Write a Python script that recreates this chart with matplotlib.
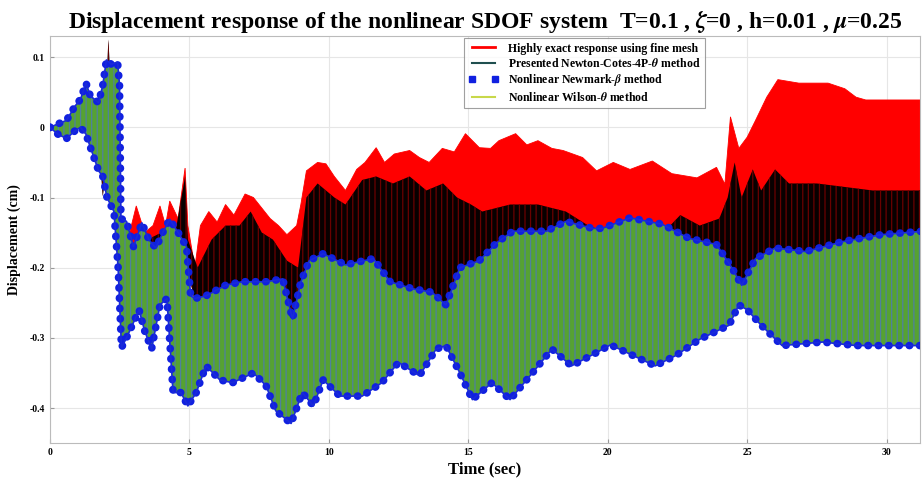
import numpy as np
import matplotlib
matplotlib.use('Agg')
import matplotlib.pyplot as plt
from matplotlib.lines import Line2D

# envelopes (time in sec, displacement in cm)
# highly exact response (red); the lower edge is mostly hidden under the other bands
exact_t_hi = [2.4, 2.5, 2.8, 3.1, 3.4, 3.7, 3.95, 4.15, 4.3, 4.6, 4.85, 4.95,
              5.2, 5.4, 5.7, 6.0, 6.3, 6.6, 7.0, 7.3, 7.6, 7.9, 8.2, 8.5, 8.85, 9.0, 9.2, 9.6,
              9.9, 10.2, 10.6, 11.0, 11.3, 11.7, 12.0, 12.35, 12.9, 13.25, 13.6, 14.07, 14.5,
              14.9, 15.4, 15.8, 16.1, 16.7, 17.1, 17.5, 18.0, 18.4, 19.1, 19.6, 20.2, 20.8,
              21.6, 22.3, 23.2, 23.9, 24.2, 24.4, 24.7, 25.0, 25.3, 25.7, 26.1, 26.85, 27.9,
              28.5, 28.9, 29.25, 31.3]
exact_hi = [0.05, -0.145, -0.16, -0.112, -0.15, -0.14, -0.112, -0.14,
            -0.105, -0.13, -0.058, -0.14, -0.2, -0.14, -0.12, -0.135, -0.11, -0.125, -0.095,
            -0.10, -0.115, -0.13, -0.14, -0.153, -0.14, -0.11, -0.062, -0.05, -0.052, -0.07,
            -0.09, -0.06, -0.05, -0.029, -0.05, -0.038, -0.033, -0.043, -0.05, -0.03, -0.035,
            -0.009, -0.029, -0.03, -0.019, -0.009, -0.025, -0.019, -0.03, -0.033, -0.043,
            -0.062, -0.05, -0.06, -0.048, -0.066, -0.072, -0.057, -0.081, 0.015, -0.03,
            -0.014, 0.01, 0.043, 0.068, 0.063, 0.063, 0.055, 0.043, 0.039, 0.039]
exact_t_lo = [2.4, 2.6, 4.3, 5.0, 5.2, 5.5, 8.4, 8.7, 9.0, 24.3, 24.7, 25.1, 31.3]
exact_lo = [0.05, -0.2, -0.2, -0.21, -0.245, -0.26, -0.26, -0.3, -0.26, -0.26, -0.24, -0.26, -0.26]

# presented Newton-Cotes-4P-theta (black)
nc_t_hi = [1.5, 1.95, 2.05, 2.1, 2.15, 2.4, 2.5, 3.0, 3.5, 4.0, 4.5, 4.85, 4.95, 5.3, 5.8,
           6.3, 6.8, 7.2, 7.6, 8.0, 8.5, 8.9, 9.2, 9.6, 10.2, 10.6, 11.2, 11.7, 12.3, 12.9,
           13.5, 14.1, 14.6, 15.1, 15.5, 16.5, 17.5, 18.5, 19.3, 20.0, 21.0, 22.0, 22.6,
           23.3, 24.0, 24.3, 24.55, 24.8, 25.2, 25.5, 26.0, 26.5, 27.5, 28.5, 29.5, 31.3]
nc_hi = [0.0, 0.05, 0.08, 0.125, 0.09, 0.08, -0.15, -0.17, -0.16, -0.15, -0.15, -0.07,
         -0.16, -0.2, -0.16, -0.14, -0.14, -0.12, -0.15, -0.16, -0.19, -0.2, -0.1, -0.08,
         -0.1, -0.11, -0.075, -0.07, -0.08, -0.07, -0.09, -0.08, -0.1, -0.11, -0.12, -0.11,
         -0.11, -0.12, -0.14, -0.15, -0.15, -0.15, -0.125, -0.14, -0.13, -0.1, -0.05,
         -0.1, -0.06, -0.09, -0.06, -0.08, -0.08, -0.085, -0.09, -0.09]
nc_t_lo = [1.5, 1.8, 1.9, 2.0, 2.3, 2.6, 4.3, 5.0, 5.2, 5.5, 8.4, 8.7, 9.0, 24.3, 24.7,
           25.1, 31.3]
nc_lo = [0.0, -0.05, -0.098, -0.07, -0.1, -0.2, -0.2, -0.21, -0.25, -0.26, -0.26, -0.3,
         -0.26, -0.26, -0.24, -0.26, -0.26]

# nonlinear Newmark-beta (blue) -- Wilson-theta sits on the same band
nm_t_hi = [0, 0.3, 0.6, 0.9, 1.1, 1.3, 1.45, 1.6, 1.75, 1.9, 2.03, 2.2, 2.43, 2.5, 2.55,
           2.75, 3.0, 3.3, 3.55, 3.8, 4.05, 4.3, 4.65, 4.9, 5.05, 5.2, 5.6, 6.3, 6.9, 7.75,
           8.35, 8.7, 9.0, 9.3, 9.8, 10.6, 11.6, 12.2, 13.0, 13.7, 14.2, 14.7, 15.4, 16.0,
           16.6, 17.8, 18.5, 19.45, 19.8, 20.8, 21.95, 22.9, 23.9, 24.45, 24.8, 25.3, 26.0,
           27.1, 28.4, 29.8, 31.3]
nm_hi = [0, 0.005, 0.01, 0.03, 0.04, 0.063, 0.045, 0.04, 0.035, 0.06, 0.096, 0.09, 0.093,
         0.06, -0.13, -0.134, -0.17, -0.136, -0.16, -0.172, -0.15, -0.131, -0.153, -0.17,
         -0.24, -0.244, -0.24, -0.225, -0.22, -0.22, -0.216, -0.273, -0.22, -0.19, -0.18,
         -0.196, -0.187, -0.22, -0.23, -0.235, -0.253, -0.2, -0.19, -0.165, -0.148, -0.148,
         -0.134, -0.144, -0.144, -0.129, -0.138, -0.158, -0.167, -0.2, -0.225, -0.187,
         -0.172, -0.177, -0.163, -0.153, -0.148]
nm_t_lo = [0, 0.3, 0.6, 0.9, 1.1, 1.3, 1.45, 1.6, 1.75, 1.9, 2.05, 2.3, 2.45, 2.57, 2.75,
           2.98, 3.2, 3.4, 3.65, 3.95, 4.2, 4.42, 4.7, 4.95, 5.25, 5.6, 6.1, 6.55, 7.3, 7.75,
           8.1, 8.65, 9.05, 9.45, 9.8, 10.4, 11.2, 11.9, 12.5, 13.25, 13.85, 14.2, 14.7,
           15.15, 15.85, 16.5, 17.3, 18.0, 18.7, 19.6, 20.1, 20.9, 21.7, 22.45, 23.3,
           24.35, 24.7, 25.0, 25.5, 26.25, 27.7, 28.9, 31.3]
nm_lo = [0, -0.01, -0.016, -0.005, 0.0, -0.01, -0.028, -0.045, -0.062, -0.07, -0.1, -0.12,
         -0.2, -0.314, -0.3, -0.28, -0.26, -0.29, -0.316, -0.253, -0.244, -0.378, -0.378,
         -0.397, -0.378, -0.34, -0.36, -0.364, -0.35, -0.368, -0.404, -0.422, -0.378,
         -0.397, -0.36, -0.383, -0.383, -0.364, -0.335, -0.354, -0.316, -0.311, -0.35,
         -0.388, -0.364, -0.388, -0.35, -0.316, -0.34, -0.321, -0.31, -0.325, -0.34,
         -0.325, -0.302, -0.282, -0.253, -0.26, -0.282, -0.311, -0.306, -0.311, -0.311]

labels = ['Highly exact response using fine mesh',
          'Presented Newton-Cotes-4P-$\\theta$ method',
          'Nonlinear Newmark-$\\beta$ method',
          'Nonlinear Wilson-$\\theta$ method']

plt.rcParams['font.family'] = 'Liberation Serif'
plt.rcParams['font.weight'] = 'bold'
plt.rcParams['mathtext.fontset'] = 'stix'
plt.rcParams['hatch.linewidth'] = 0.9


def band(ax, t_hi, hi, t_lo, lo, **kw):
    # closed polygon: upper envelope forward, lower envelope backward
    xs = list(t_hi) + list(t_lo)[::-1]
    ys = list(hi) + list(lo)[::-1]
    return ax.fill(xs, ys, **kw)


fig = plt.figure(figsize=(9.22, 4.88), dpi=100)
ax = fig.add_axes([0.054, 0.092, 0.944, 0.834])

ax.grid(True, color='#e6e6e6', lw=0.8)
ax.set_axisbelow(True)

band(ax, exact_t_hi, exact_hi, exact_t_lo, exact_lo, facecolor='#ff0000',
     edgecolor='#ff0000', lw=0.6, zorder=2)
band(ax, nc_t_hi, nc_hi, nc_t_lo, nc_lo, facecolor='#080000', edgecolor='#6a0000',
     hatch='|||', lw=0, zorder=3)
band(ax, nm_t_hi, nm_hi, nm_t_lo, nm_lo, facecolor='#56a232', edgecolor='#4f80a0',
     hatch='|||', lw=0, zorder=4)

# blue dots along the extremes of the Newmark band
for tt, yy in [(nm_t_hi, nm_hi), (nm_t_lo, nm_lo)]:
    ax.plot(tt, yy, color='#1020e0', lw=5.5, linestyle=(0, (0.05, 1.3)),
            dash_capstyle='round', zorder=5)
    ax.plot(tt, yy, color='#1a2ad8', lw=1.2, zorder=5)

ax.set_xlim(0, 31.2)
ax.set_ylim(-0.45, 0.13)
ax.set_xticks([0, 5, 10, 15, 20, 25, 30])
ax.set_yticks([-0.4, -0.3, -0.2, -0.1, 0, 0.1])
ax.set_yticklabels(['-0.4', '-0.3', '-0.2', '-0.1', '0', '0.1'])
ax.tick_params(labelsize=7, length=3, color='#999999', direction='in')
for s in ax.spines.values():
    s.set_color('#bbbbbb')

ax.set_xlabel('Time (sec)', fontsize=12, fontweight='bold', labelpad=3)
ax.set_ylabel('Displacement (cm)', fontsize=10, fontweight='bold', labelpad=6)
ax.set_title('Displacement response of the nonlinear SDOF system  T=0.1 , $\\zeta$=0 , '
             'h=0.01 , $\\mu$=0.25', fontsize=17, fontweight='bold', pad=6)

handles = [Line2D([], [], color='red', lw=2),
           Line2D([], [], color='#1f4f4f', lw=1.5),
           Line2D([], [], color='#1020e0', lw=0, marker='s', markersize=5),
           Line2D([], [], color='#c8d84a', lw=1.5)]
leg = ax.legend(handles, labels, loc='upper left', bbox_to_anchor=(0.473, 1.0),
                borderaxespad=0.2, fontsize=8.5, frameon=True, fancybox=False,
                borderpad=0.35, labelspacing=0.2, handlelength=2.6, numpoints=2)
leg.get_frame().set_edgecolor('#888888')
leg.get_frame().set_linewidth(0.8)
leg.set_zorder(10)

fig.savefig('out.png', dpi=100)
